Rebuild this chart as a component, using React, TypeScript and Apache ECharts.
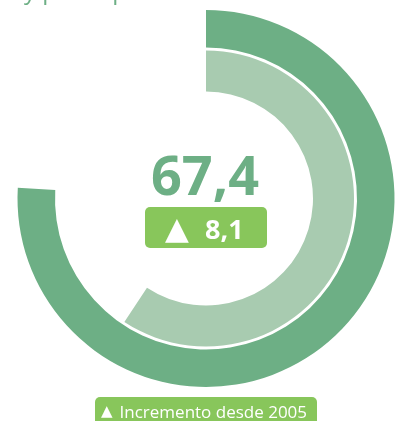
import React, { useEffect, useRef } from "react";
import * as echarts from "echarts";

const maxValue = 100;
const ringNames = ["Actual", "2005"];
const ringValues = [75.9, 59.3];
const mainValue = "67,4";
const deltaValue = "8,1";
const legendMark = "▲";
const legendLabel = "Incremento desde 2005";
const titleText = "y participación";

const DARK = "#6daf85";
const LIGHT = "#a8cbb0";
const LIME = "#88c65b";

export default function App() {
  const ref = useRef<HTMLDivElement>(null);
  useEffect(() => {
    if (!ref.current) return;
    const chart = echarts.init(ref.current, null, { renderer: "svg" });
    const radii = [
      [151, 188.5],
      [107, 148],
    ];
    const colors = [DARK, LIGHT];
    const series = ringValues.map((v, i) => ({
      type: "pie",
      name: ringNames[i],
      center: [206, 198.5],
      radius: radii[i],
      startAngle: 90,
      clockwise: true,
      silent: true,
      label: { show: false },
      labelLine: { show: false },
      itemStyle: { borderWidth: 0 },
      data: [
        { value: v, itemStyle: { color: colors[i] } },
        { value: maxValue - v, itemStyle: { color: "transparent" } },
      ],
    }));
    chart.setOption({
      animation: false,
      series,
      graphic: [
        {
          type: "text",
          x: 24,
          y: -11,
          style: {
            text: titleText,
            font: "24px 'Open Sans'",
            fill: DARK,
            verticalAlign: "middle",
          },
        },
        {
          type: "text",
          x: 205,
          y: 174,
          style: {
            text: mainValue,
            font: "bold 54px 'Open Sans'",
            fill: DARK,
            align: "center",
            verticalAlign: "middle",
          },
        },
        {
          type: "rect",
          shape: { x: 145, y: 207, width: 122, height: 41, r: 5 },
          style: { fill: LIME },
        },
        {
          type: "text",
          x: 165,
          y: 228,
          style: {
            text: "▲",
            font: "31px 'DejaVu Sans'",
            fill: "#fff",
            align: "left",
            verticalAlign: "middle",
          },
        },
        {
          type: "text",
          x: 205,
          y: 228,
          style: {
            text: deltaValue,
            font: "bold 27px 'Open Sans'",
            fill: "#fff",
            align: "left",
            verticalAlign: "middle",
          },
        },
        {
          type: "rect",
          shape: { x: 95, y: 397, width: 222, height: 30, r: [5, 5, 0, 0] },
          style: { fill: LIME },
        },
        {
          type: "text",
          x: 101,
          y: 411,
          style: {
            text: "{m|" + legendMark + "}{s| }" + legendLabel,
            font: "17px 'Open Sans'",
            fill: "#fff",
            align: "left",
            verticalAlign: "middle",
            rich: {
              m: { font: "15px 'DejaVu Sans'", fill: "#fff" },
              s: { font: "17px 'Open Sans'", width: 7 },
            },
          },
        },
      ],
    });
    return () => chart.dispose();
  }, []);
  return (
    <div
      ref={ref}
      style={{ position: "fixed", left: 0, top: 0, width: 403, height: 421 }}
    />
  );
}
